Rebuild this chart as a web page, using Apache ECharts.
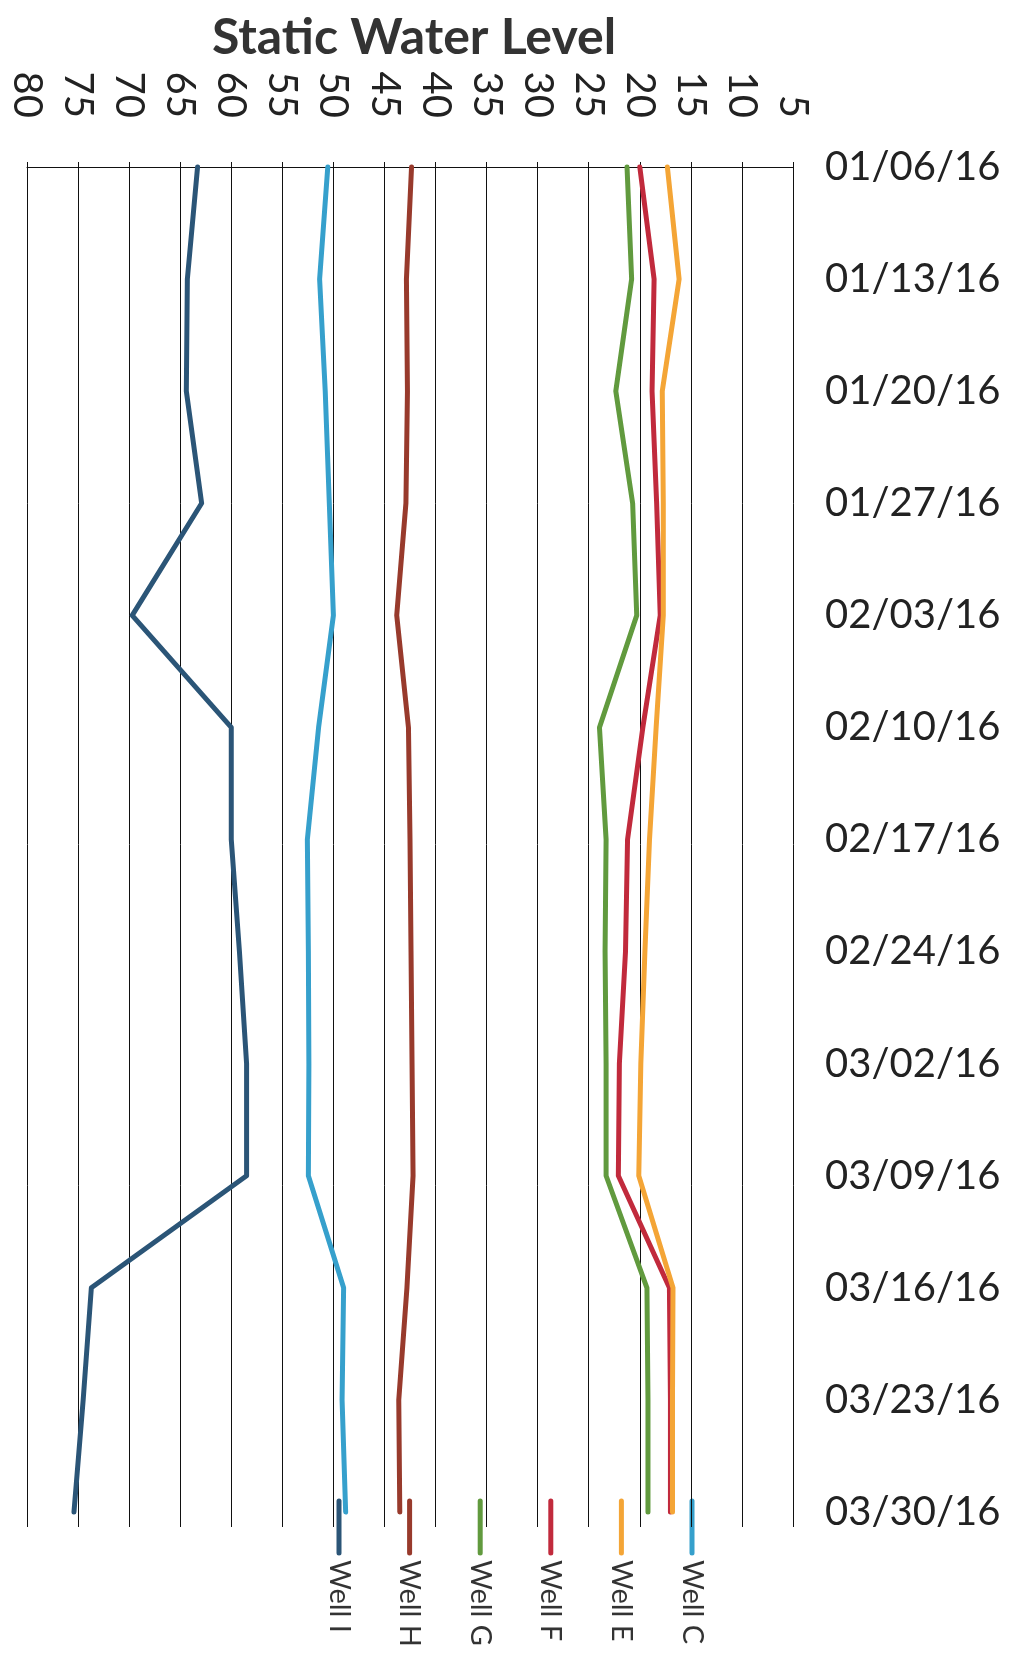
<!DOCTYPE html>
<html>
<head>
<meta charset="utf-8">
<title>Static Water Level</title>
<script src="https://cdn.jsdelivr.net/npm/echarts@6/dist/echarts.min.js"></script>
<style>
  html, body { margin: 0; padding: 0; background: #fff; }
  #chart { width: 1013px; height: 1660px; }
</style>
</head>
<body>
<div id="chart"></div>
<script>
// dates run down the page, level runs across (80 on the left, 5 on the right)
const dates = ['01/06/16', '01/13/16', '01/20/16', '01/27/16', '02/03/16', '02/10/16', '02/17/16',
  '02/24/16', '03/02/16', '03/09/16', '03/16/16', '03/23/16', '03/30/16']

const wellI = [63.3, 64.3, 64.4, 62.9, 69.7, 60.0, 60.0, 59.2, 58.5, 58.5, 73.7, 74.5, 75.4]
const wellH = [42.35, 42.85, 42.75, 42.9, 43.8, 42.65, 42.5, 42.4, 42.3, 42.2, 42.8, 43.6, 43.5]
const wellG = [21.25, 20.8, 22.35, 20.7, 20.3, 23.95, 23.3, 23.4, 23.3, 23.3, 19.3, 19.2, 19.2]
const wellF = [20.0, 18.6, 18.8, 18.35, 18.0, 19.7, 21.2, 21.4, 22.0, 22.1, 17.1, 17.0, 17.0]
const wellE = [17.3, 16.15, 17.8, 17.7, 17.7, 18.4, 19.05, 19.5, 19.9, 20.1, 16.75, 16.8, 16.8]
const wellC = [50.55, 51.35, 50.8, 50.4, 50.0, 51.45, 52.55, 52.45, 52.4, 52.45, 49.0, 49.15, 48.8]

const seriesNames = ['Well I', 'Well H', 'Well G', 'Well F', 'Well E', 'Well C']
const seriesData = [wellI, wellH, wellG, wellF, wellE, wellC]
const colors = ['#2b5577', '#983a2c', '#619a3e', '#c12a3c', '#f4a536', '#36a0cc']

const fontFamily = 'Lato, "Open Sans", sans-serif'

const chart = echarts.init(document.getElementById('chart'))

// legend is drawn by hand: rotated names with a short stroke above each
const legendGraphics = []
seriesNames.forEach((name, i) => {
  const lx = 339 + i * 70.6
  legendGraphics.push({
    type: 'line',
    shape: { x1: lx, y1: 1501, x2: lx, y2: 1553 },
    style: { stroke: colors[i], lineWidth: 5, lineCap: 'round' }
  })
  legendGraphics.push({
    type: 'text',
    x: lx,
    y: 1560,
    rotation: -Math.PI / 2,
    style: {
      text: name,
      font: '29px ' + fontFamily,
      fill: '#333',
      textAlign: 'left',
      textVerticalAlign: 'middle'
    }
  })
})

const option = {
  backgroundColor: '#fff',
  animation: false,
  title: {
    text: 'Static Water Level',
    left: 409,
    textAlign: 'center',
    top: 8,
    textStyle: {
      fontFamily: fontFamily,
      fontSize: 50,
      fontWeight: 'bold',
      color: '#333'
    }
  },
  grid: {
    left: 27,
    right: 220,
    top: 162,
    bottom: 133
  },
  xAxis: {
    type: 'value',
    position: 'top',
    inverse: true,
    min: 5,
    max: 80,
    interval: 5,
    axisLine: { show: true, lineStyle: { color: '#111', width: 1 } },
    axisTick: { show: false },
    axisLabel: {
      rotate: -90,
      margin: 44,
      fontFamily: fontFamily,
      fontSize: 40,
      color: '#222'
    },
    splitLine: { show: true, lineStyle: { color: '#111', width: 1 } }
  },
  yAxis: {
    type: 'value',
    position: 'right',
    inverse: true,
    min: -0.045,
    max: 12.134,
    axisLine: { show: false },
    axisTick: { show: false },
    splitLine: { show: false },
    axisLabel: {
      customValues: dates.map((d, i) => i),
      formatter: v => dates[Math.round(v)],
      margin: 32,
      fontFamily: fontFamily,
      fontSize: 40,
      color: '#222'
    }
  },
  series: seriesNames.map((name, i) => ({
    name: name,
    type: 'line',
    data: seriesData[i].map((v, j) => [v, j]),
    showSymbol: false,
    lineStyle: { color: colors[i], width: 5, cap: 'round', join: 'round' },
    itemStyle: { color: colors[i] }
  })),
  graphic: legendGraphics
}

chart.setOption(option)
</script>
</body>
</html>
